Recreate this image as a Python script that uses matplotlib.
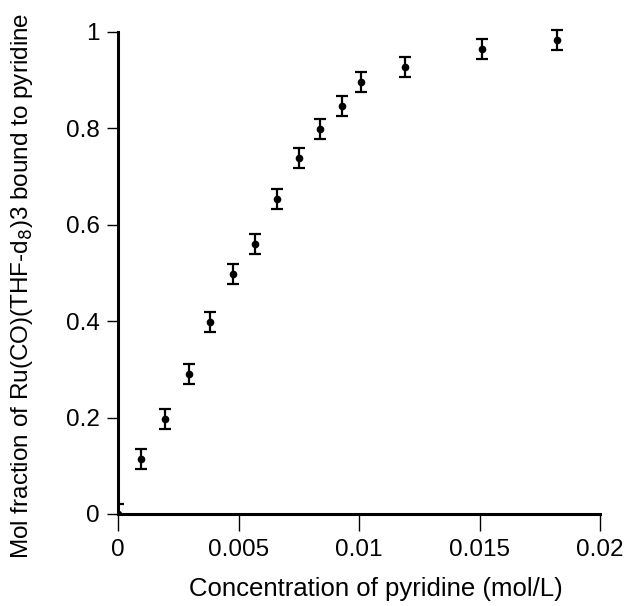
import matplotlib
matplotlib.use("Agg")
import matplotlib.pyplot as plt

conc = [0.0, 0.00095, 0.00195, 0.00295, 0.0038, 0.00477, 0.0057, 0.0066,
        0.0075, 0.0084, 0.0093, 0.0101, 0.0119, 0.0151, 0.0182]
frac = [0.0, 0.114, 0.197, 0.29, 0.398, 0.498, 0.56, 0.654,
        0.739, 0.799, 0.846, 0.896, 0.928, 0.965, 0.983]
err = [0.021] * len(conc)

xticks = [0, 0.005, 0.01, 0.015, 0.02]
xticklabels = ["0", "0.005", "0.01", "0.015", "0.02"]
yticks = [0, 0.2, 0.4, 0.6, 0.8, 1.0]
yticklabels = ["0", "0.2", "0.4", "0.6", "0.8", "1"]

plt.rcParams['font.family'] = ['Liberation Sans', 'DejaVu Sans']

W, H = 628, 606
fig = plt.figure(figsize=(W / 100, H / 100), dpi=100)
ax = fig.add_axes([118 / W, (H - 514) / H, (600 - 118) / W, (514 - 32) / H])

style = dict(fmt='o', color='black', markersize=4.5, ecolor='black',
             elinewidth=1.6, capsize=4.5, capthick=1.6)
# first point at the origin is clipped by the axes, the rest are not
ax.errorbar(conc[:1], frac[:1], yerr=err[:1], **style)
eb = ax.errorbar(conc[1:], frac[1:], yerr=err[1:], **style)
for art in eb.lines[0:1] + tuple(eb.lines[1]) + tuple(eb.lines[2]):
    art.set_clip_on(False)

ax.set_xlim(0, 0.02)
ax.set_ylim(0, 1.0)
ax.set_xticks(xticks)
ax.set_xticklabels(xticklabels)
ax.set_yticks(yticks)
ax.set_yticklabels(yticklabels)

for s in ['top', 'right']:
    ax.spines[s].set_visible(False)
for s in ['left', 'bottom']:
    ax.spines[s].set_linewidth(2.2)

ax.tick_params(axis='x', direction='out', length=12, width=1, labelsize=17.5, pad=6)
ax.tick_params(axis='y', direction='out', length=8, width=1, labelsize=17.5, pad=5)

fig.text(376 / W, 1 - 596 / H, "Concentration of pyridine (mol/L)", fontsize=18.5,
         ha='center', va='baseline')
fig.text(22 / W, 1 - 286 / H, r"Mol fraction of Ru(CO)(THF-d$_8$)3 bound to pyridine",
         fontsize=17.5, rotation=90, ha='center', va='center')

fig.savefig("out.png", dpi=100)
